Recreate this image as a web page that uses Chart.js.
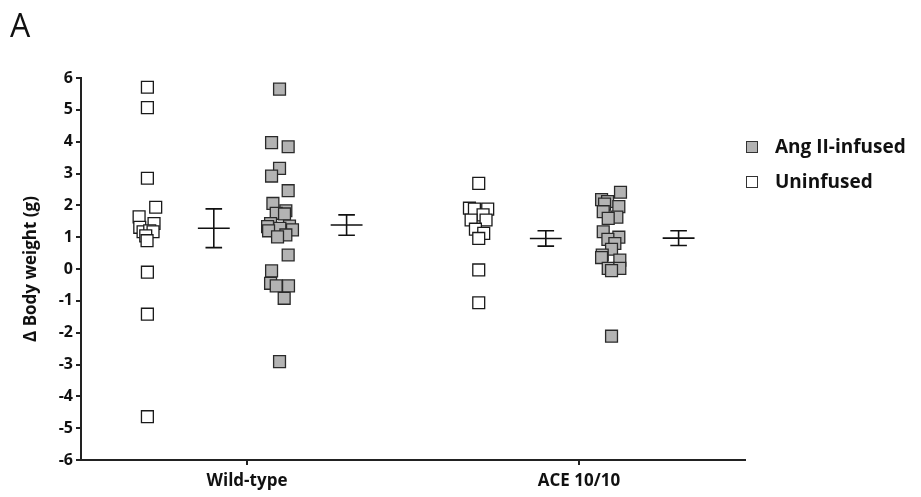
<!DOCTYPE html>
<html>
<head>
<meta charset="utf-8">
<script src="https://cdn.jsdelivr.net/npm/chart.js@4.4.1/dist/chart.umd.min.js"></script>
<style>
  body { margin: 0; background: #fff; font-family: "Open Sans", sans-serif; }
  #wrap { position: relative; width: 921px; height: 497px; }
  #panel { position: absolute; left: 10px; top: 3px; font-size: 32px; color: #111; }
  .leg { position: absolute; left: 746px; font-weight: bold; font-size: 19px; color: #111; }
  .leg i { display: inline-block; width: 10px; height: 10px; border: 1.3px solid #333; margin-right: 17px; vertical-align: 0px; }
</style>
</head>
<body>
<div id="wrap">
  <canvas id="myChart" width="921" height="497"></canvas>
  <div id="panel">A</div>
  <div class="leg" style="top:133px"><i style="background:#b3b3b3"></i>Ang II-infused</div>
  <div class="leg" style="top:168px"><i style="background:#fff"></i>Uninfused</div>
</div>
<script>
// categories sit at x = 1 and 2 on a linear axis
const categories = ['Wild-type', 'ACE 10/10'];
const yTicks = [-6, -5, -4, -3, -2, -1, 0, 1, 2, 3, 4, 5, 6];

// individual animals, x = jittered position, y = change in body weight (g)
const wtUninfusedX = [0.700, 0.700, 0.700, 0.725, 0.675, 0.720, 0.677, 0.687, 0.707, 0.717, 0.695, 0.699, 0.700, 0.700, 0.700];
const wtUninfusedY = [5.71, 5.07, 2.85, 1.94, 1.64, 1.43, 1.31, 1.17, 1.20, 1.17, 1.04, 0.89, -0.10, -1.42, -4.64];

const wtAngX = [1.098, 1.074, 1.124, 1.098, 1.074, 1.124, 1.078, 1.117, 1.088, 1.113, 1.071, 1.128, 1.062, 1.099, 1.137, 1.065, 1.117, 1.092, 1.124, 1.074, 1.071, 1.088, 1.125, 1.112, 1.098];
const wtAngY = [5.65, 3.97, 3.84, 3.16, 2.92, 2.46, 2.06, 1.83, 1.75, 1.73, 1.43, 1.35, 1.33, 1.28, 1.23, 1.20, 1.07, 1.01, 0.44, -0.06, -0.45, -0.53, -0.53, -0.92, -2.91];

const aceUninfusedX = [1.698, 1.670, 1.685, 1.725, 1.711, 1.720, 1.675, 1.688, 1.713, 1.698, 1.698, 1.698];
const aceUninfusedY = [2.69, 1.91, 1.88, 1.88, 1.70, 1.54, 1.54, 1.25, 1.12, 0.96, -0.03, -1.06];

const aceAngX = [2.125, 2.068, 2.086, 2.077, 2.120, 2.073, 2.114, 2.088, 2.073, 2.120, 2.087, 2.108, 2.098, 2.070, 2.068, 2.123, 2.088, 2.123, 2.098, 2.098];
const aceAngY = [2.41, 2.18, 2.12, 2.04, 1.96, 1.80, 1.63, 1.59, 1.17, 1.00, 0.93, 0.80, 0.62, 0.44, 0.36, 0.28, 0.02, 0.02, -0.05, -2.11];

// mean +/- SEM per group
const meanX = [0.90, 1.30, 1.90, 2.30];
const means = [1.28, 1.38, 0.96, 0.97];
const sems = [0.61, 0.32, 0.24, 0.23];

const pts = (xs, ys) => xs.map((x, i) => ({x: x, y: ys[i]}));

function errorBars() {
  const hw = 0.048, cap = 0.025;
  const out = [];
  meanX.forEach((x, i) => {
    const m = means[i], s = sems[i];
    out.push({x: x - hw, y: m}, {x: x + hw, y: m}, {x: x, y: null});
    out.push({x: x, y: m - s}, {x: x, y: m + s}, {x: x, y: null});
    out.push({x: x - cap, y: m + s}, {x: x + cap, y: m + s}, {x: x, y: null});
    out.push({x: x - cap, y: m - s}, {x: x + cap, y: m - s}, {x: x, y: null});
  });
  return out;
}

const tickFont = {family: '"Open Sans", sans-serif', size: 16, weight: 'bold'};
const catFont = {family: '"Open Sans", sans-serif', size: 17, weight: 'bold'};

new Chart(document.getElementById('myChart'), {
  type: 'scatter',
  data: {
    datasets: [
      {
        label: 'Uninfused',
        data: pts(wtUninfusedX, wtUninfusedY).concat(pts(aceUninfusedX, aceUninfusedY)),
        pointStyle: 'rect', pointRadius: 8.4,
        backgroundColor: '#ffffff', borderColor: '#1a1a1a', borderWidth: 1.3
      },
      {
        label: 'Ang II-infused',
        data: pts(wtAngX, wtAngY).concat(pts(aceAngX, aceAngY)),
        pointStyle: 'rect', pointRadius: 8.4,
        backgroundColor: '#b3b3b3', borderColor: '#2a2a2a', borderWidth: 1.3
      },
      {
        type: 'line',
        label: 'mean',
        data: errorBars(),
        showLine: true, spanGaps: false,
        pointRadius: 0, borderColor: '#111', borderWidth: 1.6
      }
    ]
  },
  options: {
    responsive: false,
    animation: false,
    devicePixelRatio: 1,
    layout: { padding: { left: 0, top: 78, right: 176, bottom: 0 } },
    plugins: { legend: { display: false }, tooltip: { enabled: false } },
    scales: {
      x: {
        type: 'linear', min: 0.5, max: 2.5,
        afterBuildTicks: s => { s.ticks = categories.map((c, i) => ({value: i + 1})); },
        afterFit: s => { s.height = 37; },
        ticks: { callback: v => categories[v - 1], font: catFont, color: '#111', padding: 6, maxRotation: 0 },
        grid: { drawOnChartArea: false, tickLength: 5, color: '#222', lineWidth: 2 },
        border: { color: '#222', width: 2 }
      },
      y: {
        type: 'linear', min: -6, max: 6,
        afterBuildTicks: s => { s.ticks = yTicks.map(v => ({value: v})); },
        afterFit: s => { s.width = 81; },
        ticks: { font: tickFont, color: '#111', padding: 3 },
        grid: { drawOnChartArea: false, tickLength: 5, color: '#222', lineWidth: 2 },
        border: { color: '#222', width: 2 },
        title: { display: true, text: 'Δ Body weight (g)', font: catFont, color: '#111', padding: { top: 21, bottom: 0 } }
      }
    }
  }
});
</script>
</body>
</html>
